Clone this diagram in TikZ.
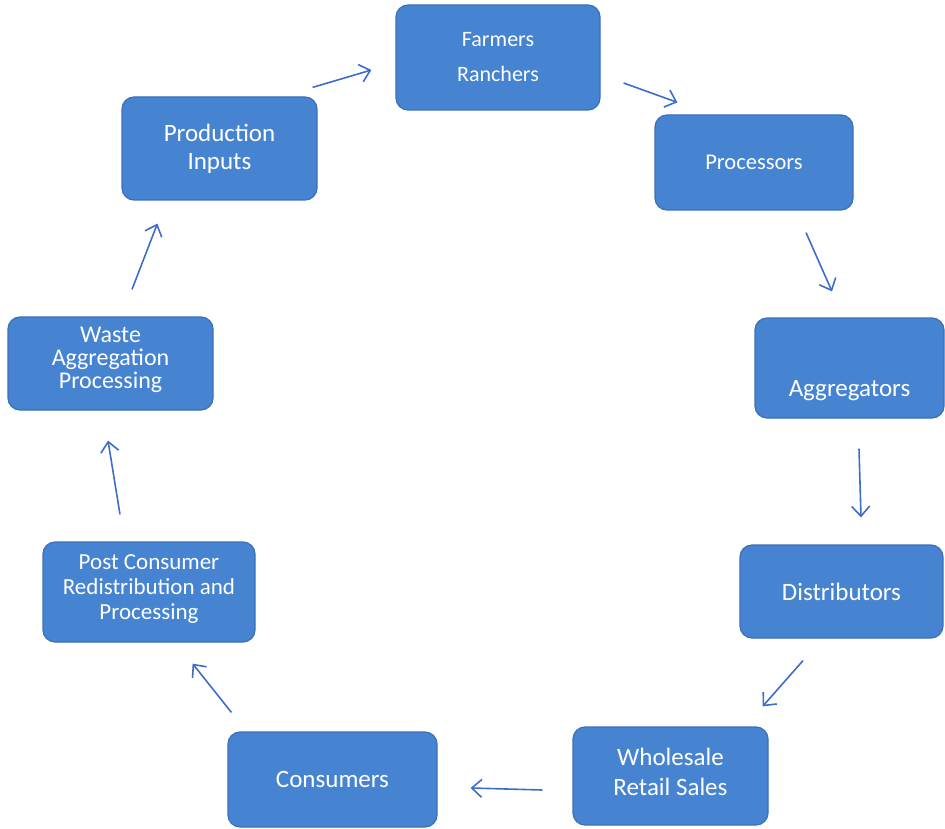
\documentclass[tikz,border=0pt]{standalone}
\usepackage{fontspec}
\setmainfont{Carlito}
\usetikzlibrary{arrows.meta}
\definecolor{boxblue}{RGB}{70,132,210}
\definecolor{boxedge}{RGB}{58,112,186}
\definecolor{arrowblue}{RGB}{62,108,202}
\tikzset{
  stage/.style={draw=boxedge, line width=1.2pt, fill=boxblue, text=white,
    rounded corners=12pt, align=center, inner sep=2pt,
    font=\fontsize{25}{30}\selectfont},
  flow/.style={draw=arrowblue, line width=1.6pt,
    -{Straight Barb[length=10pt, width=18pt, line width=1.6pt]}}
}
\begin{document}
\begin{tikzpicture}[x=1pt, y=-1pt]
\useasboundingbox (0,0) rectangle (945,829);

\node[stage, minimum width=195, minimum height=103, font=\fontsize{25}{28}\selectfont] (prod) at (219.5,148.5) {Production\\Inputs};
\node[stage, minimum width=204, minimum height=105, font=\fontsize{22}{35}\selectfont] (farm) at (498,57.5) {Farmers\\Ranchers};
\node[stage, minimum width=198, minimum height=95, font=\fontsize{22.5}{28}\selectfont] (proc) at (754,162.5) {Processors};
\node[stage, minimum width=189, minimum height=100, text height=62pt] (aggr) at (849.5,368) {Aggregators};
\node[stage, minimum width=203, minimum height=93] (dist) at (841.5,591.5) {Distributors};
\node[stage, minimum width=195, minimum height=98, text depth=8pt] (whole) at (670.5,776) {Wholesale\\Retail Sales};
\node[stage, minimum width=209, minimum height=95] (cons) at (332.5,779.5) {Consumers};
\node[stage, minimum width=212, minimum height=100, text depth=9pt, font=\fontsize{23}{25}\selectfont] (post) at (149,592) {Post Consumer\\Redistribution and\\Processing};
\node[stage, minimum width=205, minimum height=93, text depth=11pt, font=\fontsize{24}{23}\selectfont] (waste) at (110.5,363.5) {Waste\\Aggregation\\Processing};

\draw[flow] ([shift={(-5,-9)}]prod.north east) -- ([shift={(-24,12.5)}]farm.west);
\draw[flow] ([shift={(23,25.5)}]farm.east) -- ([shift={(23,-12)}]proc.north west);
\draw[flow] ([shift={(52,22)}]proc.south) -- ([shift={(-17.5,-26)}]aggr.north);
\draw[flow] ([shift={(9.5,30)}]aggr.south) -- ([shift={(19.5,-27)}]dist.north);
\draw[flow] ([shift={(-38.5,22)}]dist.south) -- ([shift={(-6,-20)}]whole.north east);
\draw[flow] ([shift={(-30,14)}]whole.west) -- ([shift={(33,8.5)}]cons.east);
\draw[flow] ([shift={(4,-19)}]cons.north west) -- ([shift={(-63,21)}]post.south east);
\draw[flow] ([shift={(-29,-27)}]post.north) -- ([shift={(-2.5,30)}]waste.south);
\draw[flow] ([shift={(21.5,-27)}]waste.north) -- ([shift={(36,23)}]prod.south west);
\end{tikzpicture}
\end{document}
